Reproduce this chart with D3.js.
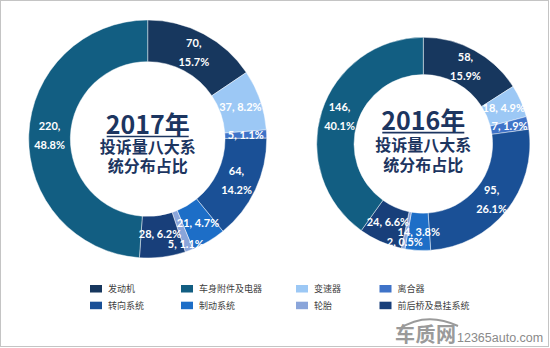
<!DOCTYPE html>
<html>
<head>
<meta charset="utf-8">
<script src="https://cdn.jsdelivr.net/npm/d3@7/dist/d3.min.js"></script>
<style>
  html, body { margin: 0; padding: 0; background: #fff; }
  svg { display: block; }
</style>
</head>
<body>
<svg id="chart" width="550" height="348"></svg>
<script>
// ---- data ----
const categories = ["发动机", "变速器", "离合器", "转向系统", "制动系统", "轮胎", "前后桥及悬挂系统", "车身附件及电器"];
const values2017 = [70, 37, 5, 64, 21, 5, 28, 220];
const pct2017 = ["15.7%", "8.2%", "1.1%", "14.2%", "4.7%", "1.1%", "6.2%", "48.8%"];
const values2016 = [58, 18, 7, 95, 14, 2, 24, 146];
const pct2016 = ["15.9%", "4.9%", "1.9%", "26.1%", "3.8%", "0.5%", "6.6%", "40.1%"];
const legendOrder = ["发动机", "车身附件及电器", "变速器", "离合器", "转向系统", "制动系统", "轮胎", "前后桥及悬挂系统"];
const colorList = ["#17375E", "#9CC8F5", "#3F73C8", "#1A5096", "#1D6EC7", "#8AA5DA", "#183F7A", "#125E82"];
const titles = ["2017年", "2016年"];
const subtitle1 = "投诉量八大系";
const subtitle2 = "统分布占比";

const svg = d3.select("#chart");
const color = d3.scaleOrdinal().domain(categories).range(colorList);

// frame
svg.append("rect").attr("x", 0.5).attr("y", 0.5).attr("width", 548).attr("height", 346)
  .attr("fill", "#fff").attr("stroke", "#c4c4c4").attr("stroke-width", 1);

const charts = [
  { values: values2017, pcts: pct2017, title: titles[0], cx: 147.7, cy: 139, R: 119, tdy: [-5.5, 14, 33] },
  { values: values2016, pcts: pct2016, title: titles[1], cx: 423.3, cy: 143.9, R: 106.6, tdy: [-14.3, 6.6, 27] }
];

const pie = d3.pie().sort(null).value(d => d.v);

charts.forEach(c => {
  const r0 = c.R * 0.65;
  const data = categories.map((k, i) => ({ k, v: c.values[i], p: c.pcts[i] }));
  const arcs = pie(data);
  const arc = d3.arc().innerRadius(r0).outerRadius(c.R);
  const labelArc = d3.arc().innerRadius((r0 + c.R) / 2).outerRadius((r0 + c.R) / 2);
  const tinyArc = d3.arc().innerRadius(c.R * 0.92).outerRadius(c.R * 0.92);
  const total = d3.sum(c.values);
  const g = svg.append("g").attr("transform", `translate(${c.cx},${c.cy})`);

  g.selectAll("path").data(arcs).join("path")
    .attr("d", arc)
    .attr("fill", d => color(d.data.k))
    .attr("stroke", "#ffffff").attr("stroke-opacity", 0.6).attr("stroke-width", 0.75);

  // label layout
  const labels = arcs.map(d => {
    const share = d.data.v / total;
    const mid = (d.startAngle + d.endAngle) / 2;
    const tiny = share < 0.015 && mid > Math.PI * 0.7;
    const [x, y] = (tiny ? tinyArc : labelArc).centroid(d);
    const two = share > 0.1;
    return { d, x, y, two, lines: two ? [d.data.v + ",", d.data.p] : [d.data.v + ", " + d.data.p] };
  });

  const lbl = g.selectAll("text.lbl").data(labels).join("text")
    .attr("class", "lbl")
    .attr("font-family", "Lato, 'Open Sans', sans-serif")
    .attr("font-weight", "bold")
    .attr("font-size", 11)
    .attr("fill", "#ffffff")
    .attr("text-anchor", "middle");

  lbl.each(function(l) {
    const t = d3.select(this);
    if (l.two) {
      t.append("tspan").attr("x", 0).attr("y", -9.5).attr("dy", "0.35em").text(l.lines[0]);
      t.append("tspan").attr("x", 0).attr("y", 9.5).attr("dy", "0.35em").text(l.lines[1]);
    } else {
      t.append("tspan").attr("x", 0).attr("y", 0).attr("dy", "0.35em").text(l.lines[0]);
    }
    const b = this.getBBox();
    l.w = b.width; l.h = l.two ? 30 : 10;
  });

  // simple relaxation of overlapping single-line labels
  const singles = labels.filter(l => !l.two);
  for (let it = 0; it < 30; it++) {
    for (let i = 0; i < singles.length; i++) {
      for (let j = i + 1; j < singles.length; j++) {
        const a = singles[i], b = singles[j];
        const ox = (a.w + b.w) / 2 - Math.abs(a.x - b.x);
        const oy = (a.h + b.h) / 2 - Math.abs(a.y - b.y);
        if (ox > 0 && oy > 0) {
          if (oy < ox) {
            const s = (b.y >= a.y ? 1 : -1) * oy / 2;
            a.y -= s; b.y += s;
          } else {
            const s = (b.x >= a.x ? 1 : -1) * ox / 2;
            a.x -= s; b.x += s;
          }
        }
      }
    }
  }
  lbl.attr("transform", l => `translate(${l.x},${l.y})`);

  // center text
  const titleColor = "#1C3560";
  const tt = g.append("text")
    .attr("x", 0).attr("y", c.tdy[0])
    .attr("text-anchor", "middle")
    .attr("font-family", "'Noto Sans CJK SC', sans-serif")
    .attr("font-weight", "bold")
    .attr("font-size", 25)
    .attr("fill", titleColor)
    .text(c.title);
  const bb = tt.node().getBBox();
  g.append("line")
    .attr("x1", bb.x + 1).attr("x2", bb.x + bb.width - 1)
    .attr("y1", c.tdy[0] + 3).attr("y2", c.tdy[0] + 3)
    .attr("stroke", titleColor).attr("stroke-width", 1.6);
  [subtitle1, subtitle2].forEach((s, i) => {
    g.append("text")
      .attr("x", 0).attr("y", c.tdy[i + 1])
      .attr("text-anchor", "middle")
      .attr("font-family", "'Noto Sans CJK SC', sans-serif")
      .attr("font-weight", "bold")
      .attr("font-size", 16)
      .attr("fill", titleColor)
      .text(s);
  });
});

// legend
const colX = [90, 181, 296, 379.5];
const rowY = [285, 301.7];
const lg = svg.append("g");
legendOrder.forEach((k, i) => {
  const col = i % 4, row = Math.floor(i / 4);
  lg.append("rect")
    .attr("x", colX[col]).attr("y", rowY[row])
    .attr("width", 12).attr("height", 7.5)
    .attr("fill", color(k));
  lg.append("text")
    .attr("x", colX[col] + 18).attr("y", rowY[row] + 3.75)
    .attr("dy", "0.35em")
    .attr("font-family", "'Noto Sans CJK SC', sans-serif")
    .attr("font-size", 9)
    .attr("fill", "#404040")
    .text(k);
});

// watermark
const wm = svg.append("g");
wm.append("path")
  .attr("d", "M399,329 Q426,311 458,326")
  .attr("fill", "none").attr("stroke", "#9a9a9a").attr("stroke-width", 2);
wm.append("text")
  .attr("x", 395).attr("y", 342)
  .attr("font-family", "'Noto Sans CJK SC', sans-serif")
  .attr("font-weight", "bold")
  .attr("font-size", 20)
  .attr("fill", "#9a9a9a")
  .attr("textLength", 61)
  .text("车质网");
wm.append("text")
  .attr("x", 457).attr("y", 342)
  .attr("font-family", "'Liberation Sans', Arial, sans-serif")
  .attr("font-size", 12.5)
  .attr("fill", "#8a8a8a")
  .text("12365auto.com");
</script>
</body>
</html>
